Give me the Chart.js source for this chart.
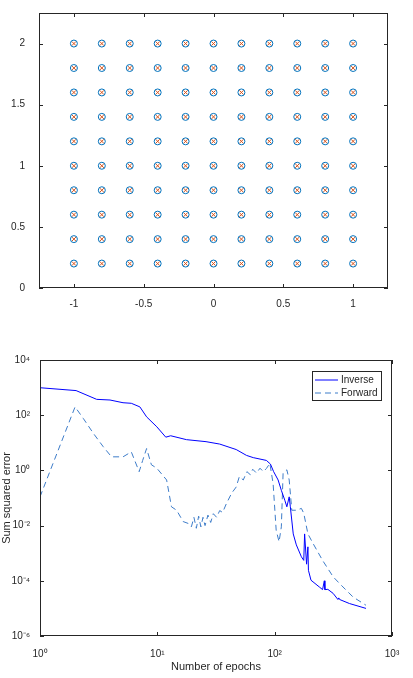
<!DOCTYPE html>
<html>
<head>
<meta charset="utf-8">
<script src="https://cdn.jsdelivr.net/npm/chart.js@4.4.0/dist/chart.umd.min.js"></script>
<style>
  body { margin: 0; background: #fff; width: 413px; height: 678px; position: relative; overflow: hidden; }
  canvas { position: absolute; left: 0; }
  #grid { top: 0; }
  #err { top: 340px; }
</style>
</head>
<body>
<canvas id="grid" width="413" height="320"></canvas>
<canvas id="err" width="413" height="338"></canvas>
<script>
// top plot: training grid
const gridX = [-1, -0.8, -0.6, -0.4, -0.2, 0, 0.2, 0.4, 0.6, 0.8, 1];
const gridY = [0.2, 0.4, 0.6, 0.8, 1, 1.2, 1.4, 1.6, 1.8, 2];
const topXTicks = [-1, -0.5, 0, 0.5, 1];
const topYTicks = [0, 0.5, 1, 1.5, 2];

// bottom plot: error curves (epoch, value)
const invEpochs = [1, 2.03, 3.04, 3.95, 5.1, 6.0, 7.1, 8.1, 9.9, 11.8, 13, 17.7, 26, 34, 47, 57.5, 65.7, 85, 92, 98, 107, 114, 122, 127, 133, 136, 144, 153, 169, 177, 180, 187, 192, 194, 204, 240, 256, 265, 268, 284, 315, 346, 352, 358, 434, 600];
const invError = [990, 780, 375, 355, 283, 270, 200, 87, 38, 16, 18, 13, 11, 9, 5.7, 3.5, 2.9, 2.3, 1.7, 0.9, 0.45, 0.19, 0.083, 0.048, 0.11, 0.048, 0.005, 0.002, 0.00074, 0.00055, 0.005, 0.0004, 0.0017, 0.00024, 0.000105, 0.00006, 0.000048, 0.0001, 0.000048, 0.000049, 0.000035, 0.000021, 0.000024, 0.000021, 0.000015, 0.00001];
const fwdEpochs = [1, 1.99, 2.34, 2.85, 3.46, 4.07, 5.1, 6.0, 7.0, 7.5, 8.1, 8.9, 9.9, 12, 13.2, 14.6, 16.6, 18.3, 19.5, 20.5, 21.5, 22.5, 23.5, 24.5, 25.5, 27, 28.5, 30, 32, 34, 36, 38.8, 43, 47, 50, 54, 58, 62, 65, 70, 75, 80, 85, 91, 97, 103, 109, 114, 118, 127, 133, 140, 153, 169, 177, 192, 213, 256, 315, 358, 465, 600];
const fwdError = [0.11, 200, 76, 22, 7.2, 3.1, 3.1, 4.7, 0.9, 2.3, 6.2, 1.6, 1.2, 0.45, 0.048, 0.036, 0.014, 0.012, 0.009, 0.02, 0.008, 0.022, 0.009, 0.02, 0.01, 0.024, 0.013, 0.027, 0.02, 0.035, 0.03, 0.063, 0.15, 0.25, 0.6, 0.45, 0.9, 0.7, 1.1, 0.8, 1.2, 0.9, 1.17, 1.8, 0.33, 0.0068, 0.0026, 0.009, 0.8, 1.05, 0.45, 0.036, 0.036, 0.042, 0.028, 0.005, 0.0022, 0.00055, 0.00014, 0.000079, 0.000026, 0.000013];
const errXTicks = [1, 10, 100, 1000];
const errYTicks = [1e-6, 1e-4, 1e-2, 1, 1e2, 1e4];

const sup = { '0': '⁰', '1': '¹', '2': '²', '3': '³', '4': '⁴', '6': '⁶', '-': '⁻' };
const pow10 = (v) => '10' + String(Math.round(Math.log10(v))).split('').map((c) => sup[c]).join('');

const font = { family: 'Arial, "Liberation Sans", sans-serif', size: 10 };
const axisColor = '#262626';

// MATLAB-like box with inside ticks
const boxPlugin = {
  id: 'box',
  afterDraw(chart) {
    const { ctx, chartArea: a, scales } = chart;
    ctx.save();
    ctx.strokeStyle = axisColor;
    ctx.lineWidth = 1;
    ctx.strokeRect(a.left + 0.5, a.top + 0.5, a.right - a.left - 1, a.bottom - a.top - 1);
    ctx.beginPath();
    scales.x.ticks.forEach((t) => {
      const px = Math.round(scales.x.getPixelForValue(t.value)) + 0.5;
      ctx.moveTo(px, a.bottom); ctx.lineTo(px, a.bottom - 4);
      ctx.moveTo(px, a.top); ctx.lineTo(px, a.top + 4);
    });
    scales.y.ticks.forEach((t) => {
      const py = Math.round(scales.y.getPixelForValue(t.value)) + 0.5;
      ctx.moveTo(a.left, py); ctx.lineTo(a.left + 4, py);
      ctx.moveTo(a.right, py); ctx.lineTo(a.right - 4, py);
    });
    ctx.stroke();
    ctx.restore();
  }
};

const fixedTicks = (vals) => (scale) => { scale.ticks = vals.map((v) => ({ value: v })); };

const pts = [];
gridX.forEach((x) => gridY.forEach((y) => pts.push({ x, y })));

new Chart(document.getElementById('grid'), {
  type: 'scatter',
  data: {
    datasets: [
      { data: pts, pointStyle: 'circle', radius: 3.5, borderColor: '#0072bd', backgroundColor: 'transparent', borderWidth: 1 },
      { data: pts, pointStyle: 'crossRot', radius: 3, borderColor: '#d95319', borderWidth: 1 }
    ]
  },
  options: {
    responsive: false, animation: false,
    layout: { padding: { top: 13, right: 25, left: 0, bottom: 0 } },
    plugins: { legend: { display: false }, tooltip: { enabled: false } },
    scales: {
      x: {
        type: 'linear', min: -1.25, max: 1.25,
        afterBuildTicks: fixedTicks(topXTicks),
        afterFit: (s) => { s.height = 32; },
        grid: { display: false }, border: { display: false },
        ticks: { font, color: axisColor, padding: 2, callback: (v) => String(v) }
      },
      y: {
        min: 0, max: 2.25,
        afterBuildTicks: fixedTicks(topYTicks),
        afterFit: (s) => { s.width = 39; },
        grid: { display: false }, border: { display: false },
        ticks: { font, color: axisColor, padding: 6, callback: (v) => String(v) }
      }
    }
  },
  plugins: [boxPlugin]
});

const legendPlugin = {
  id: 'boxLegend',
  afterDraw(chart) {
    const { ctx } = chart;
    const x = 312, y = 31, w = 69, h = 29;
    ctx.save();
    ctx.fillStyle = '#fff';
    ctx.fillRect(x, y, w, h);
    ctx.strokeStyle = '#262626';
    ctx.lineWidth = 1;
    ctx.strokeRect(x + 0.5, y + 0.5, w, h);
    ctx.font = '10px Arial, "Liberation Sans", sans-serif';
    ctx.textBaseline = 'middle';
    chart.data.datasets.forEach((ds, i) => {
      const ly = y + 9 + i * 13;
      ctx.strokeStyle = ds.borderColor;
      ctx.setLineDash(ds.borderDash || []);
      ctx.beginPath(); ctx.moveTo(x + 3, ly); ctx.lineTo(x + 26, ly); ctx.stroke();
      ctx.setLineDash([]);
      ctx.fillStyle = axisColor;
      ctx.fillText(ds.label, x + 29, ly);
    });
    ctx.restore();
  }
};

new Chart(document.getElementById('err'), {
  type: 'line',
  data: {
    datasets: [
      { label: 'Inverse', data: invEpochs.map((e, i) => ({ x: e, y: invError[i] })), borderColor: '#0000ff', borderWidth: 1, pointRadius: 0, tension: 0 },
      { label: 'Forward', data: fwdEpochs.map((e, i) => ({ x: e, y: fwdError[i] })), borderColor: '#3d7cc9', borderWidth: 1, borderDash: [6, 4], pointRadius: 0, tension: 0 }
    ]
  },
  options: {
    responsive: false, animation: false,
    layout: { padding: { top: 20, right: 21, left: 0, bottom: 0 } },
    plugins: { legend: { display: false }, tooltip: { enabled: false } },
    scales: {
      x: {
        type: 'logarithmic', min: 1, max: 1000,
        afterBuildTicks: fixedTicks(errXTicks),
        afterFit: (s) => { s.height = 42; },
        grid: { display: false }, border: { display: false },
        ticks: { font, color: axisColor, padding: 4, callback: (v) => pow10(v) },
        title: { display: true, text: 'Number of epochs', font: { ...font, size: 11 }, color: axisColor, padding: { top: 2 } }
      },
      y: {
        type: 'logarithmic', min: 1e-6, max: 1e4,
        afterBuildTicks: fixedTicks(errYTicks),
        afterFit: (s) => { s.width = 40; },
        grid: { display: false }, border: { display: false },
        ticks: { font, color: axisColor, padding: 2, callback: (v) => pow10(v) },
        title: { display: true, text: 'Sum squared error', font: { ...font, size: 11 }, color: axisColor, padding: { top: 0, bottom: 0 } }
      }
    }
  },
  plugins: [boxPlugin, legendPlugin]
});
</script>
</body>
</html>
